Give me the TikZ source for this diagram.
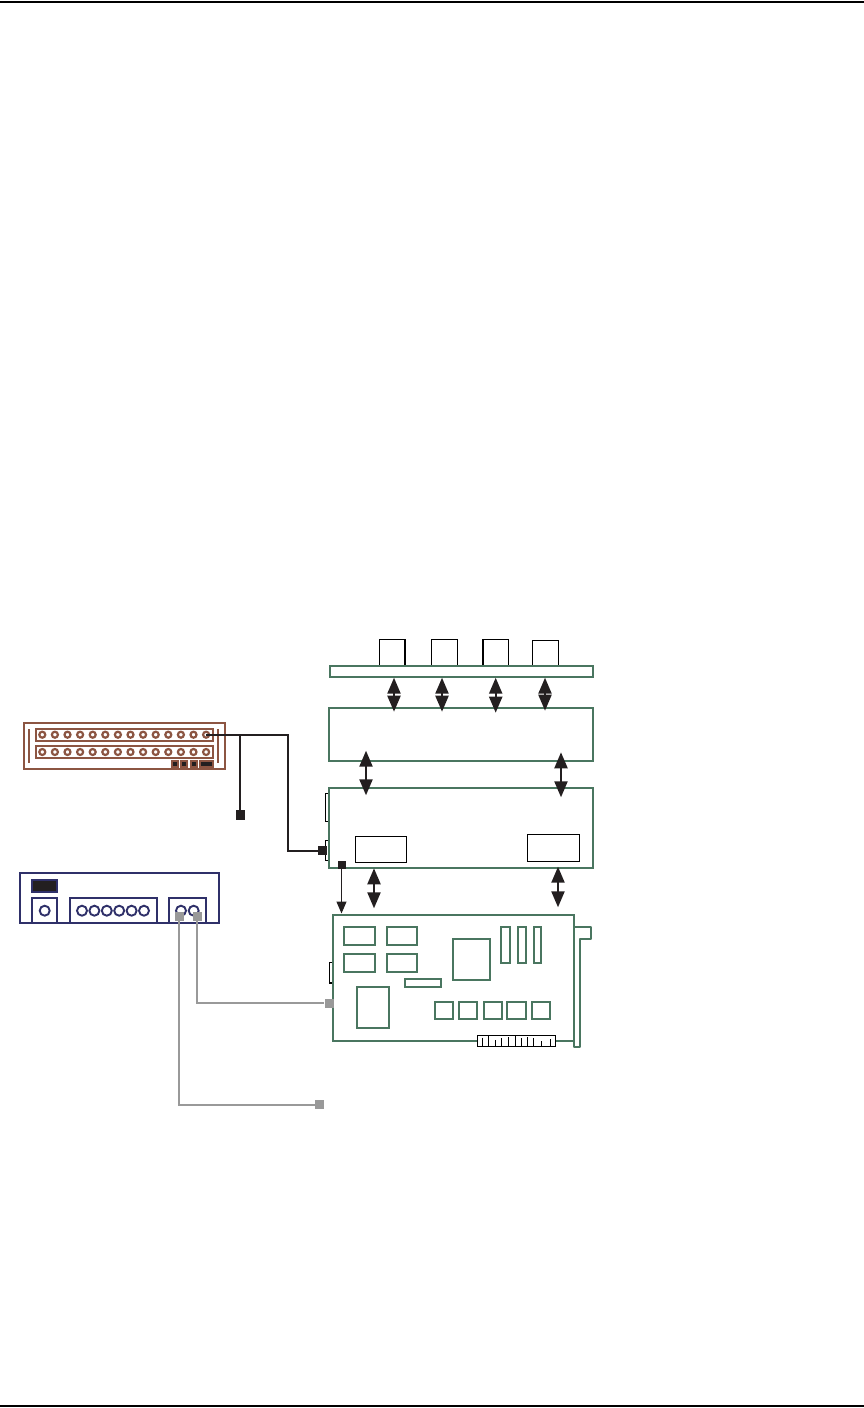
\documentclass[tikz,border=0pt]{standalone}
\usetikzlibrary{arrows.meta, positioning}
\definecolor{brownC}{HTML}{8C5542}
\definecolor{greenC}{HTML}{4A7660}
\definecolor{navyC}{HTML}{2F3069}
\definecolor{darkC}{HTML}{231F20}
\definecolor{grayC}{HTML}{999999}
\tikzstyle{recNode} = [rectangle, inner sep=0pt, outer sep=0pt, draw=black, fill=white, line width=1pt]
\tikzstyle{recNodeG} = [recNode, draw=greenC, line width=2pt]
\tikzstyle{recNodeC} = [recNodeG, line width=2pt]
\tikzstyle{recNodeB} = [recNode, draw=brownC, line width=2pt]
\tikzstyle{recNodeN} = [recNode, draw=navyC, line width=2pt]
\tikzstyle{holeB} = [circle, inner sep=0pt, minimum size=6pt, draw=brownC, line width=2.2pt]
\tikzstyle{holeN} = [circle, inner sep=0pt, minimum size=10pt, draw=navyC, line width=1.9pt]
\tikzstyle{plugK} = [rectangle, inner sep=0pt, minimum size=9.5pt, fill=darkC]
\tikzstyle{plugG} = [rectangle, inner sep=0pt, minimum size=9pt, fill=grayC]
\tikzstyle{wireK} = [line width=2pt, draw=darkC]
\tikzstyle{wireG} = [line width=2pt, draw=grayC]
\tikzstyle{arrowD} = [line width=2.2pt, draw=darkC, {Triangle[length=16pt,width=13pt]}-{Triangle[length=16pt,width=13pt]}]
\tikzstyle{arrowS} = [line width=1.2pt, draw=darkC, -{Triangle[length=12pt,width=10pt]}]

\begin{document}
\begin{tikzpicture}[x=1pt, y=-1pt]
    \useasboundingbox (0,0) rectangle (864,1408);
    \coordinate (ruleTL) at (0,1.5);
    \coordinate (ruleTR) at (864,1.5);
    \coordinate (ruleBL) at (0,1405.7);
    \coordinate (ruleBR) at (864,1405.7);
    \draw [line width=2pt] (ruleTL) -- (ruleTR);
    \draw [line width=2pt] (ruleBL) -- (ruleBR);

    % patch panel
    \node (panel) [recNodeB, minimum width=201pt, minimum height=46pt] at (124.5,746) {};
    \node (rowA) [recNodeB, minimum width=177pt, minimum height=12pt] at (124.5,735) {};
    \node (rowB) [recNodeB, minimum width=177pt, minimum height=12pt] at (124.5,752) {};
    \coordinate (barAt) at (29,729);
    \coordinate (barAb) at (29,763);
    \coordinate (barBt) at (218,729);
    \coordinate (barBb) at (218,763);
    \draw [draw=brownC, line width=2pt] (barAt) -- (barAb);
    \draw [draw=brownC, line width=2pt] (barBt) -- (barBb);
    \foreach \i in {1,...,14} {
        \node (holeA\i) [holeB] at ({42.3+(\i-1)*12.6},734.7) {};
        \node (holeZ\i) [holeB] at ({42.3+(\i-1)*12.6},752) {};
    }
    \foreach \i/\x/\w/\k in {1/175/8/3.5, 2/184.2/7.5/3.5, 3/194/7.5/3.5, 4/206.5/14.5/10.5} {
        \node (pin\i) [rectangle, inner sep=0pt, minimum width=\w pt, minimum height=8pt, fill=brownC] at (\x,764) {};
        \node (pinC\i) [rectangle, inner sep=0pt, minimum width=\k pt, minimum height=3.5pt, fill=darkC] at (\x,764) {};
    }

    % breakout box
    \node (breakout) [recNodeN, minimum width=199pt, minimum height=49.7pt] at (119.5,897.9) {};
    \node (display) [recNodeN, fill=darkC, minimum width=25.5pt, minimum height=11.5pt] at (44.5,886) {};
    \node (secA) [recNodeN, minimum width=25pt, minimum height=24.7pt] at (44.5,910.4) {};
    \node (secB) [recNodeN, minimum width=87pt, minimum height=24.7pt] at (113.5,910.4) {};
    \node (secC) [recNodeN, minimum width=37pt, minimum height=24.7pt] at (187.5,910.4) {};
    \node (knob) [holeN] at (44.7,910.7) {};
    \foreach \i in {1,...,6} {
        \node (hole\i) [holeN] at ({82+(\i-1)*12.4},910.7) {};
    }
    \node (jackAring) [holeN] at (181,910.7) {};
    \node (jackBring) [holeN] at (193.7,910.7) {};

    % stacked boards
    \node (bnc1) [recNode, minimum width=26pt, minimum height=27pt] at (392.3,652.8) {};
    \node (bnc2) [recNode, minimum width=26pt, minimum height=27pt] at (444.3,652.8) {};
    \node (bnc3) [recNode, minimum width=25.6pt, minimum height=27pt] at (495.5,652.8) {};
    \node (bnc4) [recNode, minimum width=26pt, minimum height=26pt] at (545.3,653.3) {};
    \draw [line width=2pt] (bnc1.north east) -- (bnc1.south east);
    \draw [line width=2pt] (bnc3.north west) -- (bnc3.south west);
    \node (bar) [recNodeG, minimum width=263.3pt, minimum height=11pt] at (461.3,671.5) {};
    \node (boardA) [recNodeG, minimum width=264pt, minimum height=52.7pt] at (461,734.4) {};
    \node (tabA) [recNode, minimum width=3.7pt, minimum height=28pt] at (327.2,807.3) {};
    \node (tabB) [recNode, minimum width=3.7pt, minimum height=20.3pt] at (327.2,850.2) {};
    \node (boardB) [recNodeG, fill=none, minimum width=264pt, minimum height=79.7pt] at (461,827.9) {};
    \node (chipA) [recNode, minimum width=51pt, minimum height=26pt] at (380.8,849.3) {};
    \node (chipB) [recNode, minimum width=52pt, minimum height=27pt] at (553.3,847.8) {};

    % pci card
    \node (tabC) [recNode, line width=1.4pt, minimum width=3.3pt, minimum height=20.3pt] at (331.3,972.9) {};
    \node (card) [recNodeG, fill=none, minimum width=241.3pt, minimum height=126pt] at (453.3,978) {};
    \coordinate (brA) at (574,926.7);
    \coordinate (brB) at (591,926.7);
    \coordinate (brC) at (591,939);
    \coordinate (brD) at (580,939);
    \coordinate (brE) at (580,1047);
    \coordinate (brF) at (574,1047);
    \coordinate (brG) at (574,1041);
    \draw [draw=greenC, line width=2pt, line join=round] (brA) -- (brB) -- (brC) -- (brD) -- (brE) -- (brF) -- (brG);
    \foreach \n/\x/\y/\w/\h in {m1/359.8/935.9/31/18.3, m2/402/935.9/30.6/18.3, m3/359.8/962.9/31/18.3, m4/402/962.9/30.6/18.3,
        wide/423/982.9/36.6/8.3, fpga/471.5/959.4/37.6/41.3, s1/505.2/944.9/9/36.3, s2/522/944.9/8.6/36.3, s3/537.5/944.9/7.6/36.3,
        ram/372.9/1007.4/32.3/41.3, c1/444/1010.4/18.6/17.3, c2/468/1010.4/18.6/17.3, c3/492.7/1010.4/18/17.3, c4/516.5/1010.4/19.6/17.3, c5/541/1010.4/18.6/17.3} {
        \node (\n) [recNodeC, minimum width=\w pt, minimum height=\h pt] at (\x,\y) {};
    }
    \node (edge) [recNode, line width=1.2pt, minimum width=78.4pt, minimum height=10.6pt] at (516.5,1041) {};
    \foreach \x/\t in {482.3/1037.7, 488.3/1035.7, 495/1040, 501.7/1038, 508.3/1037, 515/1035.7, 521/1038, 527/1037, 533.7/1038, 541/1041, 550/1039} {
        \coordinate (tickT) at (\x,\t);
        \draw [line width=1pt] (tickT) -- (tickT |- edge.south);
    }

    % arrows between boards
    \foreach \x/\t/\b in {394/677.7/711.7, 442/677.7/711.7, 495.7/677.7/712.7, 545/677.7/710.7,
        366/750.7/795.3, 561/752.3/797.3, 374/868.3/908.3, 558/866.7/907.3} {
        \coordinate (arrT) at (\x,\t);
        \coordinate (arrB) at (\x,\b);
        \draw [arrowD] (arrT) -- (arrB);
    }

    % cables
    \node (plugA) [plugK] at (322.5,850.7) {};
    \node (plugB) [plugK] at (240.3,815) {};
    \coordinate (bendA) at (288,850.7);
    \draw [wireK] (holeA14.center) -| (bendA) -- (plugA);
    \draw [wireK] (plugB) |- (holeA14.center);
    \node (plugS) [plugK, minimum size=8pt] at (341.5,865) {};
    \coordinate (cardIn) at (341.5,913.5);
    \draw [arrowS] (plugS) -- (cardIn);
    \node (jackA) [plugG] at (197,916) {};
    \node (jackB) [plugG] at (179,916) {};
    \node (plugC) [plugG] at (329,1003) {};
    \node (plugD) [plugG] at (319.7,1104.5) {};
    \draw [wireG] (jackA) |- (plugC);
    \draw [wireG] (jackB) |- (plugD);
\end{tikzpicture}
\end{document}
